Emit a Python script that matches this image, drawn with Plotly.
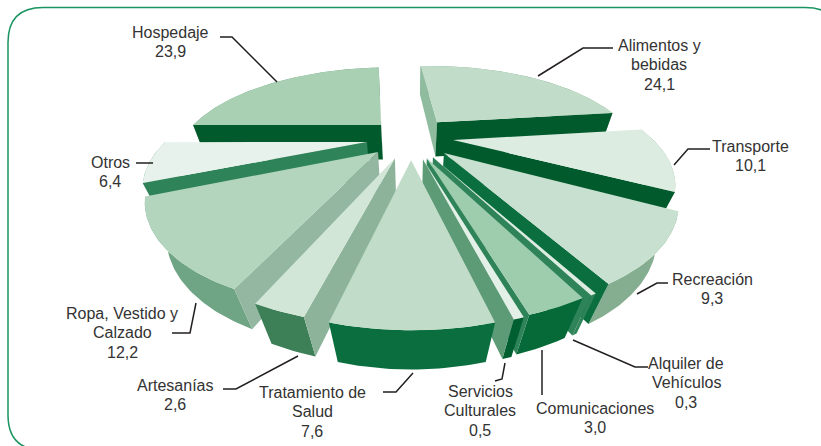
import numpy as np
import plotly.graph_objects as go

categories = ["Alimentos y<br>bebidas", "Transporte", "Recreación", "Alquiler de<br>Vehículos",
              "Comunicaciones", "Servicios<br>Culturales", "Tratamiento de<br>Salud", "Artesanías",
              "Ropa, Vestido y<br>Calzado", "Otros", "Hospedaje"]
values = [24.1, 10.1, 9.3, 0.3, 3.0, 0.5, 7.6, 2.6, 12.2, 6.4, 23.9]

# per slice styling, same order as categories
pull_x = [0.146, 0.215, 0.161, 0.107, 0.078, 0.06, 0.005, -0.07, -0.152, -0.213, -0.154]
pull_y = [0.27, 0.05, -0.09, -0.132, -0.142, -0.152, -0.163, -0.142, -0.08, 0.027, 0.232]
top_colors = ["#c1dcc8", "#dcece1", "#c7e0cf", "#dcece1", "#9dcdac", "#e3f0e7",
              "#c1dcc8", "#d2e6d8", "#b3d5bd", "#e8f2ec", "#a9d0b3"]
wall_colors = ["#85ad90", "#85ad90", "#85ad90", "#2e8358", "#066a38", "#005f30",
               "#0a6e3e", "#3d8058", "#6fa585", "#5d9a76", "#6fa585"]
start_colors = ["#8fbb9e", "#8fbb9e", "#85ad90", "#2e8358", "#2e8358", "#005f30",
                "#8db49a", "#8db49a", "#93b7a0", "#2e8358", "#005a2b"]
end_colors = ["#005a2b", "#005a2b", "#0a6e3e", "#2e8358", "#2e8358", "#5d9a76",
              "#0a6e3e", "#3d8058", "#6fa585", "#2e8358", "#93b7a0"]
draw_order = [0, 10, 1, 9, 2, 8, 3, 4, 5, 7, 6]

# label text centres and leader lines (page pixels)
label_x = [659, 750, 712, 686, 595, 480, 312, 175, 122, 110, 170]
label_y = [45, 146, 279, 363, 408, 391, 392, 385, 313, 162, 32]
leaders = [
    [(613, 48), (583, 48), (538, 76)],
    [(710, 149), (688, 149), (674, 165)],
    [(668, 283), (657, 283), (637, 294)],
    [(648, 367), (635, 367), (573, 340)],
    [(542, 350), (542, 395)],
    [(505, 363), (502, 379), (495, 381)],
    [(383, 392), (396, 392), (413, 373)],
    [(223, 389), (236, 389), (298, 356)],
    [(172, 333), (190, 333), (196, 303)],
    [(136, 163), (153, 163)],
    [(220, 37), (232, 37), (277, 82)],
]

# perspective of the pie plane
CX, CY = 410, 144.5
RX, RY = 204, 91
K = 0.37
VP = (410, 680)
DEPTH = 0.072
START = -4


def project(x, y):
    w = 1 + K * y
    return CX + RX * x / w, CY - RY * y / w, w


def drop(sx, sy, w):
    f = DEPTH / (w + DEPTH)
    return sx + (VP[0] - sx) * f, sy + (VP[1] - sy) * f


def add_poly(fig, xs, ys, color):
    fig.add_trace(go.Scatter(x=xs, y=ys, mode="lines", fill="toself", fillcolor=color,
                             line=dict(width=0, color=color), hoverinfo="skip", showlegend=False))


def side(ax, ay, px, py, qx, qy):
    return (px - ax) * (qy - ay) - (py - ay) * (qx - ax)


fig = go.Figure()

edges = START + np.concatenate([[0], np.cumsum(values)]) * 360 / sum(values)

for i in draw_order:
    t1, t2 = edges[i], edges[i + 1]
    ox, oy = pull_x[i], pull_y[i]
    th = np.radians(np.linspace(t1, t2, max(3, int(t2 - t1) + 2)))
    tx, ty, tw = project(ox + np.sin(th), oy + np.cos(th))
    bx, by = drop(tx, ty, tw)
    ax, ay, aw = project(ox, oy)
    abx, aby = drop(ax, ay, aw)

    add_poly(fig, list(tx) + list(bx[::-1]), list(ty) + list(by[::-1]), wall_colors[i])
    # a cut face only shows when its lower edge falls outside the top of the slice
    for k, color, other in ((0, start_colors[i], -1), (-1, end_colors[i], 0)):
        inside = side(ax, ay, tx[k], ty[k], tx[other], ty[other])
        below = side(ax, ay, tx[k], ty[k], bx[k], by[k])
        if inside * below < 0:
            add_poly(fig, [ax, tx[k], bx[k], abx], [ay, ty[k], by[k], aby], color)
    add_poly(fig, [ax] + list(tx), [ay] + list(ty), top_colors[i])

for line in leaders:
    fig.add_trace(go.Scatter(x=[p[0] for p in line], y=[p[1] for p in line], mode="lines",
                             line=dict(color="#231f20", width=1.5), hoverinfo="skip", showlegend=False))

for i, name in enumerate(categories):
    rows = name.split("<br>") + [f"{values[i]:.1f}".replace(".", ",")]
    for j, row in enumerate(rows):
        fig.add_annotation(x=label_x[i], y=label_y[i] + j * 19.5, text=row, showarrow=False,
                           xanchor="center", yanchor="middle",
                           font=dict(family="Liberation Sans", size=16, color="#333333"))

# rounded frame, runs off the page on the right and bottom
L, T, R, B, r = 8, 7.5, 840, 450, 35
frame = (f"M {L + r} {T} L {R - r} {T} Q {R} {T} {R} {T + r} L {R} {B - r} Q {R} {B} {R - r} {B} "
         f"L {L + r} {B} Q {L} {B} {L} {B - r} L {L} {T + r} Q {L} {T} {L + r} {T} Z")
fig.add_shape(type="path", path=frame, line=dict(color="#1a9460", width=1.5), layer="below")

fig.update_xaxes(range=[0, 821], visible=False, fixedrange=True)
fig.update_yaxes(range=[446, 0], visible=False, fixedrange=True)
fig.update_layout(width=821, height=446, margin=dict(l=0, r=0, t=0, b=0),
                  paper_bgcolor="white", plot_bgcolor="white", showlegend=False)
fig.write_html("out.html", config=dict(displayModeBar=False),
               post_script="document.body.style.margin='0';document.body.style.overflow='hidden';")
